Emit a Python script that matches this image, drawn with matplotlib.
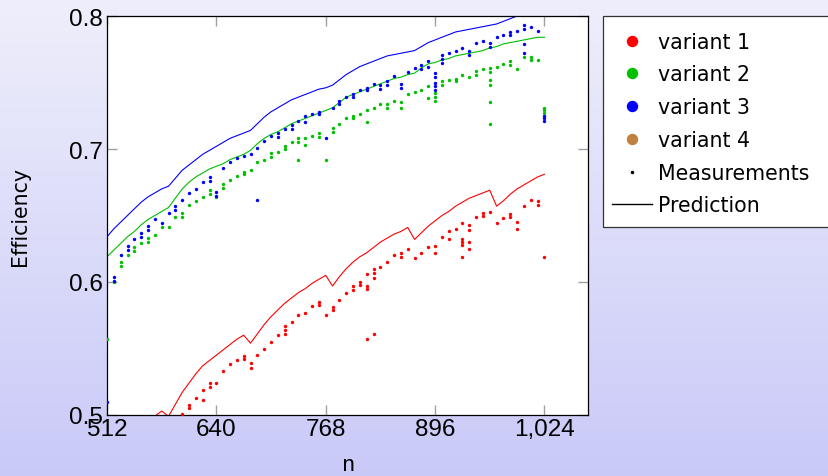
import numpy as np
import matplotlib
matplotlib.use("Agg")
import matplotlib.pyplot as plt
from matplotlib.lines import Line2D
from matplotlib.patches import Rectangle

# ---------------- data ----------------
n_pred = list(range(512, 1025, 8))

pred_v1 = [0.440, 0.452, 0.463, 0.473, 0.482, 0.489, 0.495, 0.499, 0.503, 0.499,
           0.508, 0.517, 0.524, 0.531, 0.537, 0.541, 0.545, 0.549, 0.553, 0.557,
           0.560, 0.554, 0.561, 0.568, 0.574, 0.579, 0.584, 0.588, 0.592, 0.595,
           0.599, 0.602, 0.605, 0.597, 0.604, 0.610, 0.615, 0.619, 0.622, 0.626,
           0.630, 0.633, 0.636, 0.638, 0.641, 0.632, 0.637, 0.642, 0.646, 0.650,
           0.653, 0.657, 0.660, 0.663, 0.665, 0.667, 0.669, 0.657, 0.661, 0.666,
           0.670, 0.673, 0.676, 0.679, 0.681]
pred_v2 = [0.619, 0.624, 0.629, 0.634, 0.638, 0.643, 0.647, 0.650, 0.653, 0.656,
           0.663, 0.670, 0.675, 0.679, 0.682, 0.685, 0.687, 0.689, 0.692, 0.694,
           0.696, 0.699, 0.704, 0.708, 0.711, 0.713, 0.716, 0.719, 0.721, 0.723,
           0.725, 0.727, 0.729, 0.731, 0.735, 0.739, 0.741, 0.743, 0.745, 0.747,
           0.749, 0.751, 0.753, 0.754, 0.756, 0.757, 0.761, 0.764, 0.765, 0.767,
           0.768, 0.770, 0.771, 0.772, 0.773, 0.774, 0.776, 0.777, 0.779, 0.780,
           0.781, 0.782, 0.783, 0.784, 0.784]
pred_v3 = [0.634, 0.640, 0.645, 0.650, 0.655, 0.660, 0.664, 0.667, 0.670, 0.672,
           0.678, 0.684, 0.688, 0.692, 0.696, 0.699, 0.702, 0.705, 0.708, 0.710,
           0.712, 0.714, 0.719, 0.724, 0.728, 0.731, 0.734, 0.737, 0.739, 0.741,
           0.743, 0.745, 0.746, 0.748, 0.752, 0.756, 0.759, 0.762, 0.764, 0.766,
           0.768, 0.770, 0.771, 0.772, 0.773, 0.774, 0.777, 0.780, 0.782, 0.784,
           0.786, 0.788, 0.789, 0.790, 0.791, 0.792, 0.793, 0.794, 0.796, 0.798,
           0.800, 0.801, 0.802, 0.803, 0.804]

n_meas = list(range(512, 1025, 8))
meas_v2 = [0.557, 0.600, 0.615, 0.620, 0.626, 0.629, 0.633, 0.635, 0.641, 0.641,
           0.649, 0.652, 0.658, 0.661, 0.664, 0.669, 0.664, 0.674, 0.677, 0.680,
           0.683, 0.684, 0.690, 0.692, 0.697, 0.698, 0.702, 0.705, 0.708, 0.708,
           0.710, 0.712, 0.692, 0.716, 0.719, 0.723, 0.725, 0.726, 0.729, 0.731,
           0.734, 0.734, 0.736, 0.735, 0.741, 0.743, 0.744, 0.747, 0.742, 0.751,
           0.752, 0.753, 0.756, 0.754, 0.759, 0.760, 0.761, 0.762, 0.764, 0.766,
           0.760, 0.769, 0.769, 0.767, 0.729]
meas_v3 = [0.510, 0.604, 0.620, 0.627, 0.632, 0.637, 0.642, 0.647, 0.644, 0.652,
           0.657, 0.662, 0.667, 0.670, 0.675, 0.679, 0.668, 0.686, 0.690, 0.693,
           0.695, 0.696, 0.701, 0.706, 0.710, 0.712, 0.715, 0.718, 0.721, 0.725,
           0.726, 0.728, 0.708, 0.731, 0.736, 0.739, 0.741, 0.744, 0.746, 0.749,
           0.748, 0.751, 0.755, 0.749, 0.758, 0.761, 0.763, 0.766, 0.757, 0.771,
           0.772, 0.774, 0.776, 0.774, 0.780, 0.781, 0.780, 0.784, 0.786, 0.788,
           0.789, 0.793, 0.792, 0.789, 0.723]

n_meas_v1 = list(range(600, 1025, 8))
meas_v1 = [0.501, 0.5075, 0.513, 0.519, 0.524, 0.524, 0.533, 0.538, 0.541, 0.544,
           0.539, 0.545, 0.550, 0.555, 0.560, 0.567, 0.570, 0.575, 0.577, 0.582,
           0.585, 0.575, 0.581, 0.5865, 0.592, 0.597, 0.600, 0.606, 0.610, 0.6115,
           0.615, 0.620, 0.622, 0.625, 0.618, 0.622, 0.626, 0.627, 0.634, 0.638,
           0.640, 0.632, 0.643, 0.649, 0.652, 0.653, 0.644, 0.648, 0.651, 0.645,
           0.657, 0.662, 0.661, 0.619]

# additional repeated measurements (n, efficiency)
extra_v1_n = [608, 624, 632, 672, 680, 720, 720, 760, 776, 800, 808, 816, 816, 816,
              824, 824, 824, 856, 896, 912, 928, 928, 928, 928, 936, 936, 936, 952,
              984, 992, 1016]
extra_v1 = [0.505, 0.511, 0.521, 0.542, 0.535, 0.561, 0.564, 0.583, 0.579, 0.594,
            0.598, 0.597, 0.595, 0.557, 0.607, 0.603, 0.561, 0.619, 0.622, 0.632,
            0.630, 0.628, 0.644, 0.619, 0.639, 0.630, 0.625, 0.650, 0.649, 0.640,
            0.658]
extra_v2_n = [528, 544, 560, 600, 632, 648, 672, 704, 720, 736, 736, 744, 760, 776,
              800, 816, 840, 856, 888, 896, 896, 904, 920, 944, 960, 960, 960, 960,
              960, 984, 1008, 1024, 1024]
extra_v2 = [0.612, 0.623, 0.630, 0.649, 0.666, 0.671, 0.681, 0.694, 0.700, 0.705,
            0.692, 0.703, 0.709, 0.713, 0.723, 0.720, 0.731, 0.731, 0.738, 0.739,
            0.736, 0.748, 0.751, 0.756, 0.758, 0.752, 0.748, 0.735, 0.719, 0.763,
            0.767, 0.727, 0.731]
extra_v3_n = [520, 536, 552, 560, 592, 632, 640, 688, 712, 728, 744, 760, 784, 800,
              816, 832, 840, 856, 880, 888, 896, 896, 896, 896, 904, 904, 936, 960,
              984, 1000, 1000, 1000, 1024, 1024]
extra_v3 = [0.601, 0.624, 0.634, 0.639, 0.654, 0.676, 0.665, 0.662, 0.709, 0.715,
            0.720, 0.726, 0.734, 0.739, 0.744, 0.745, 0.748, 0.746, 0.760, 0.762,
            0.754, 0.750, 0.747, 0.744, 0.768, 0.765, 0.771, 0.777, 0.786, 0.790,
            0.779, 0.772, 0.721, 0.725]

x_ticks = [512, 640, 768, 896, 1024]
x_tick_labels = ["512", "640", "768", "896", "1,024"]
y_ticks = [0.5, 0.6, 0.7, 0.8]
y_tick_labels = ["0.5", "0.6", "0.7", "0.8"]
legend_labels = ["variant 1", "variant 2", "variant 3", "variant 4",
                 "Measurements", "Prediction"]

# ---------------- style ----------------
RED = "#ff0000"
GREEN = "#00c000"
BLUE = "#0000ff"
BROWN = "#bf8040"

W, H = 829, 477
fig = plt.figure(figsize=(W / 100, H / 100), dpi=100)

# gradient background
bg = fig.add_axes([0, 0, 1, 1], zorder=-10)
top_c = np.array([0.935, 0.935, 0.985])
bot_c = np.array([0.79, 0.79, 0.975])
t = np.linspace(0, 1, 256)[:, None, None]
grad = top_c[None, None, :] * (1 - t) + bot_c[None, None, :] * t
bg.imshow(np.repeat(grad, 2, axis=1), aspect="auto", extent=[0, 1, 0, 1])
bg.set_axis_off()

L, R, T, B = 107, 588, 17, 416
ax = fig.add_axes([L / W, 1 - B / H, (R - L) / W, (B - T) / H])
ax.set_facecolor("white")

ms = 6
ax.scatter(n_meas_v1, meas_v1, s=ms, color=RED, linewidths=0, zorder=3)
ax.scatter(extra_v1_n, extra_v1, s=ms, color=RED, linewidths=0, zorder=3)
ax.scatter(n_meas, meas_v2, s=ms, color=GREEN, linewidths=0, zorder=3)
ax.scatter(extra_v2_n, extra_v2, s=ms, color=GREEN, linewidths=0, zorder=3)
ax.scatter(n_meas, meas_v3, s=ms, color=BLUE, linewidths=0, zorder=3)
ax.scatter(extra_v3_n, extra_v3, s=ms, color=BLUE, linewidths=0, zorder=3)

ax.plot(n_pred, pred_v1, color=RED, lw=0.8, zorder=2)
ax.plot(n_pred, pred_v2, color=GREEN, lw=0.8, zorder=2)
ax.plot(n_pred, pred_v3, color=BLUE, lw=0.8, zorder=2)

ax.set_xlim(512, 1075)
ax.set_ylim(0.5, 0.8)
ax.set_xticks(x_ticks)
ax.set_xticklabels(x_tick_labels)
ax.set_yticks(y_ticks)
ax.set_yticklabels(y_tick_labels)
ax.tick_params(direction="in", length=7.5, width=1, color="#a0a0a0",
               top=True, right=True, labelsize=17.5)
ax.tick_params(axis="x", pad=2)
ax.tick_params(axis="y", pad=3)
for lab in ax.get_xticklabels() + ax.get_yticklabels():
    lab.set_fontfamily(["Liberation Sans", "DejaVu Sans"])
for s in ax.spines.values():
    s.set_color("black")
    s.set_linewidth(0.9)

fig.text(20 / W, 1 - 216.5 / H, "Efficiency", rotation=90, ha="center",
         va="center", fontsize=14.8, family=["DejaVu Sans"])
fig.text(347.5 / W, 1 - 466 / H, "n", ha="center", va="center", fontsize=16,
         family=["Liberation Mono", "DejaVu Sans Mono"])

# legend frame (drawn separately so the box can run past the right edge)
frame = Rectangle((603 / W, 1 - 228 / H), 240 / W, (228 - 17.3) / H,
                  transform=fig.transFigure, facecolor="white",
                  edgecolor="#333333", linewidth=0.9, zorder=1)
fig.patches.append(frame)

handles = [
    Line2D([], [], marker="o", ls="none", color=RED, markersize=7.2),
    Line2D([], [], marker="o", ls="none", color=GREEN, markersize=7.2),
    Line2D([], [], marker="o", ls="none", color=BLUE, markersize=7.2),
    Line2D([], [], marker="o", ls="none", color=BROWN, markersize=7.2),
    Line2D([], [], marker="o", ls="none", color="black", markersize=1.5),
    Line2D([], [], color="black", lw=1),
]
leg = fig.legend(handles, legend_labels, loc="upper left",
                 bbox_to_anchor=(603 / W, 1 - 23.5 / H),
                 bbox_transform=fig.transFigure, borderaxespad=0,
                 fontsize=14.8, frameon=False, handlelength=1.95,
                 handletextpad=0.3, borderpad=0.45, labelspacing=0.62)
leg.set_zorder(5)
for txt in leg.get_texts():
    txt.set_fontfamily(["DejaVu Sans"])

fig.savefig("out.png", dpi=100)
